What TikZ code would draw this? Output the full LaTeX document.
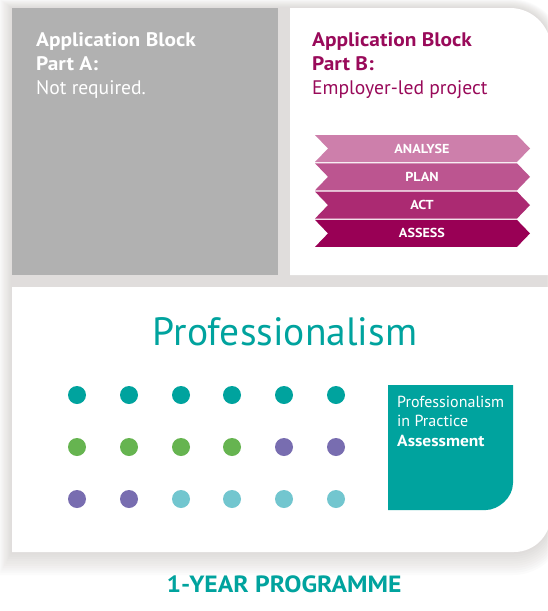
\documentclass[tikz,border=0pt]{standalone}
\usepackage{fontspec}
\setmainfont{PT Sans}[BoldFeatures={FakeStretch=1.09}]
\definecolor{agray}{HTML}{B1B1B1}
\definecolor{shadowc}{HTML}{BDB8B1}
\definecolor{magtext}{HTML}{990A5A}
\definecolor{chevA}{HTML}{CD7FAB}
\definecolor{chevB}{HTML}{BC5590}
\definecolor{chevC}{HTML}{AB2A72}
\definecolor{chevD}{HTML}{990055}
\definecolor{teal}{HTML}{00A39E}
\definecolor{dgreen}{HTML}{66B450}
\definecolor{dpurple}{HTML}{786DB0}
\definecolor{dlight}{HTML}{72C6CF}
\tikzset{
  shadowlayer/.style={fill=shadowc, fill opacity=0.05},
  blocktext/.style={anchor=base west, inner sep=0pt, align=left, font=\fontsize{19.6}{24}\selectfont},
  chevlabel/.style={inner sep=0pt, text=white, font=\fontsize{13}{13}\selectfont\bfseries},
  dot/.style={circle, inner sep=0pt, minimum size=18pt},
}
\begin{document}
\begin{tikzpicture}[x=1pt, y=-1pt]
\useasboundingbox (0,0) rectangle (547,611);
\fill[white] (0,0) rectangle (547,611);
% soft shadow behind the three blocks
\foreach \k in {1,...,10}{
  \pgfmathsetmacro{\L}{12-1.3*\k}
  \pgfmathsetmacro{\T}{8-0.9*\k}
  \pgfmathsetmacro{\R}{551+1.3*\k}
  \pgfmathsetmacro{\B}{552+2.3*\k}
  \pgfmathsetmacro{\ra}{41+1.3*\k}
  \pgfmathsetmacro{\rb}{38+1.3*\k}
  \fill[shadowlayer] (\L,\T) -- ({\R-\ra},\T) .. controls ({\R-0.448*\ra},\T) and (\R,{\T+0.448*\ra}) .. (\R,{\T+\ra})
     -- (\R,{\B-\rb}) .. controls (\R,{\B-0.448*\rb}) and ({\R-0.448*\rb},\B) .. ({\R-\rb},\B) -- (\L,\B) -- cycle;
}
% block A
\fill[agray] (12,8) rectangle (278,275);
% block B
\fill[white] (290,275) -- (290,8) -- (510,8) .. controls (532.6,8) and (551,26.4) .. (551,49) -- (551,275) -- cycle;
% bottom box
\fill[white] (12,287) -- (551,287) -- (551,514) .. controls (551,535) and (535,552) .. (514,552) -- (12,552) -- cycle;

\node[blocktext, text=white] (ta) at (36,94) {\textbf{Application Block}\\\textbf{Part A:}\\Not required.};
\node[blocktext, text=magtext] (tb) at (312,94) {\textbf{Application Block}\\\textbf{Part B:}\\Employer-led project};

% chevrons
\foreach \i/\c/\n/\t in {0/chevA/analyse/ANALYSE, 1/chevB/plan/PLAN, 2/chevC/act/ACT, 3/chevD/assess/ASSESS}{
  \pgfmathsetmacro{\yt}{135+28.3*\i}
  \pgfmathsetmacro{\yb}{\yt+27}
  \pgfmathsetmacro{\ym}{\yt+13.5}
  \fill[\c] (315,\yt) -- (517,\yt) -- (530,\ym) -- (517,\yb) -- (315,\yb) -- (328,\ym) -- cycle;
  \node[chevlabel] (\n) at (422,\ym) {\t};
}

\node[text=teal, inner sep=0pt, anchor=base, font=\fontsize{39.5}{40}\selectfont] (title) at (285,345) {Professionalism};

% dots
\foreach \r/\y in {1/395, 2/447, 3/499}{
  \foreach \col/\x in {1/77, 2/129, 3/181, 4/232, 5/284, 6/336}{
    \pgfmathtruncatemacro{\k}{(\r-1)*6+\col}
    \ifnum\k<7 \def\dc{teal}\else\ifnum\k<11 \def\dc{dgreen}\else\ifnum\k<15 \def\dc{dpurple}\else\def\dc{dlight}\fi\fi\fi
    \node[dot, fill=\dc] (d\r\col) at (\x,\y) {};
  }
}

% assessment box
\fill[teal] (388,385) -- (513,385) -- (513,483) .. controls (513,498) and (498,510) .. (486,510) -- (388,510) -- cycle;
\node[anchor=base west, inner sep=0pt, align=left, text=white, font=\fontsize{16}{19.5}\selectfont] (pip) at (397,446) {Professionalism\\in Practice\\\textbf{Assessment}};

\node[text=teal, inner sep=0pt, anchor=base, font=\fontsize{23.5}{24}\selectfont\bfseries] (prog) at (284,592) {1-YEAR PROGRAMME};
\end{tikzpicture}
\end{document}
